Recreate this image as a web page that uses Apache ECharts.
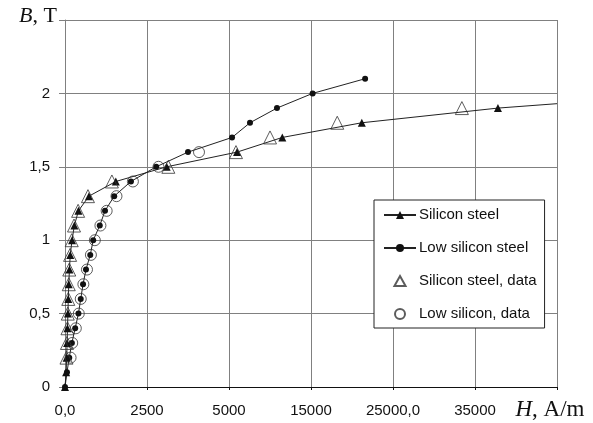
<!DOCTYPE html>
<html>
<head>
<meta charset="utf-8">
<script src="https://cdn.jsdelivr.net/npm/echarts@6/dist/echarts.min.js"></script>
<style>
html,body{margin:0;padding:0;background:#fff;}
#chart{width:593px;height:423px;}
</style>
</head>
<body>
<div id="chart"></div>
<script>
// H tick values (A/m) at equally spaced gridlines, and their labels
const hTicks = [0, 2500, 5000, 15000, 25000, 35000, 45000];
const xTickLabels = ["0,0", "2500", "5000", "15000", "25000,0", "35000", ""];
const yTickLabels = ["0", "0,5", "1", "1,5", "2", ""];

// Silicon steel curve
const siliconB = [0, 0.1, 0.2, 0.3, 0.4, 0.5, 0.6, 0.7, 0.8, 0.9, 1.0, 1.1, 1.2, 1.3, 1.4, 1.5, 1.6, 1.7, 1.8, 1.9, 1.93];
const siliconH = [0, 35, 50, 65, 75, 90, 100, 115, 135, 160, 215, 285, 410, 730, 1550, 3100, 5980, 11500, 21200, 37800, 45000];

// Low silicon steel curve
const lowB = [0, 0.1, 0.2, 0.3, 0.4, 0.5, 0.6, 0.7, 0.8, 0.9, 1.0, 1.1, 1.2, 1.3, 1.4, 1.5, 1.6, 1.7, 1.8, 1.9, 2.0, 2.1];
const lowH = [0, 60, 130, 210, 310, 410, 480, 550, 640, 770, 860, 1060, 1220, 1500, 2010, 2780, 3750, 5370, 7560, 10850, 15200, 21600];

// Silicon steel, measured data
const silDataB = [0.2, 0.3, 0.4, 0.5, 0.6, 0.7, 0.8, 0.9, 1.0, 1.1, 1.2, 1.3, 1.4, 1.5, 1.6, 1.7, 1.8, 1.9];
const silDataH = [45, 60, 75, 85, 100, 115, 130, 155, 205, 275, 400, 700, 1430, 3150, 5850, 10000, 18200, 33400];

// Low silicon, measured data
const lowDataB = [0.2, 0.3, 0.4, 0.5, 0.6, 0.7, 0.8, 0.9, 1.0, 1.1, 1.2, 1.3, 1.4, 1.5, 1.6];
const lowDataH = [170, 220, 330, 420, 480, 560, 670, 790, 910, 1080, 1270, 1570, 2070, 2850, 4085];

// piecewise-linear H scale: each gridline interval spans one axis unit
function hScale(h) {
  for (let i = 0; i < hTicks.length - 1; i++) {
    if (h <= hTicks[i + 1]) return i + (h - hTicks[i]) / (hTicks[i + 1] - hTicks[i]);
  }
  const n = hTicks.length - 1;
  return n + (h - hTicks[n]) / (hTicks[n] - hTicks[n - 1]);
}
function pairs(H, B) { return H.map((h, i) => [hScale(h), B[i]]); }

const siliconData = pairs(siliconH, siliconB).map((p, i, a) =>
  i === a.length - 1 ? { value: p, symbol: 'none' } : p);

const chart = echarts.init(document.getElementById('chart'), null, { renderer: 'canvas' });
const lineCol = '#222';
const gridCol = '#808080';
chart.setOption({
  animation: false,
  backgroundColor: '#fff',
  textStyle: { fontFamily: 'Liberation Sans' },
  grid: { left: 65, right: 36, top: 20, bottom: 36, containLabel: false },
  legend: {
    orient: 'vertical',
    left: 374, top: 200,
    padding: [6, 8, 5, 9],
    itemGap: 15,
    itemWidth: 32, itemHeight: 10,
    symbolKeepAspect: true,
    backgroundColor: '#fff',
    borderColor: '#222', borderWidth: 1,
    textStyle: { fontFamily: 'Liberation Sans', fontSize: 15, color: '#111', lineHeight: 18, padding: [0, 0, 0, -2] },
    data: [
      'Silicon steel',
      'Low silicon steel',
      { name: 'Silicon steel, data', icon: 'path://M5,0 L10,9 L0,9 Z' },
      'Low silicon, data'
    ]
  },
  xAxis: {
    type: 'value', min: 0, max: 6, interval: 1,
    name: '{i|H}, A/m',
    nameLocation: 'end', nameGap: -7,
    nameTextStyle: {
      fontFamily: 'Liberation Serif', fontSize: 23, color: '#111',
      align: 'center', verticalAlign: 'top', padding: [11, 0, 0, 0],
      rich: { i: { fontFamily: 'Liberation Serif', fontStyle: 'italic', fontSize: 23, color: '#111' } }
    },
    axisLine: { show: true, lineStyle: { color: '#111', width: 1 } },
    axisTick: { show: true, length: 3, lineStyle: { color: '#111' } },
    axisLabel: {
      margin: 16, fontSize: 15, color: '#111', fontFamily: 'Liberation Sans',
      formatter: v => xTickLabels[Math.round(v)] ?? ''
    },
    splitLine: { show: true, lineStyle: { color: gridCol, width: 1 } }
  },
  yAxis: {
    type: 'value', min: 0, max: 2.5, interval: 0.5,
    name: '{i|B}, T',
    nameLocation: 'end', nameGap: -7,
    nameTextStyle: {
      fontFamily: 'Liberation Serif', fontSize: 22, color: '#111',
      align: 'right', verticalAlign: 'bottom', padding: [0, 8, 0, 0],
      rich: { i: { fontFamily: 'Liberation Serif', fontStyle: 'italic', fontSize: 22, color: '#111' } }
    },
    axisLine: { show: true, lineStyle: { color: gridCol, width: 1 } },
    axisTick: { show: true, length: 6, lineStyle: { color: gridCol } },
    axisLabel: {
      margin: 15, fontSize: 15, color: '#111', fontFamily: 'Liberation Sans',
      formatter: v => yTickLabels[Math.round(v / 0.5)] ?? ''
    },
    splitLine: { show: true, lineStyle: { color: gridCol, width: 1 } }
  },
  series: [
    {
      name: 'Silicon steel', type: 'line',
      data: siliconData,
      symbol: 'triangle', symbolSize: 8,
      itemStyle: { color: '#111' },
      lineStyle: { color: lineCol, width: 1 },
      z: 3
    },
    {
      name: 'Low silicon steel', type: 'line',
      data: pairs(lowH, lowB),
      symbol: 'circle', symbolSize: 6,
      itemStyle: { color: '#111' },
      lineStyle: { color: lineCol, width: 1 },
      z: 3
    },
    {
      name: 'Silicon steel, data', type: 'scatter',
      data: pairs(silDataH, silDataB),
      symbol: 'triangle', symbolSize: 13,
      itemStyle: { color: 'rgba(255,255,255,0)', borderColor: '#333', borderWidth: 1 },
      z: 4
    },
    {
      name: 'Low silicon, data', type: 'scatter',
      data: pairs(lowDataH, lowDataB),
      symbol: 'circle', symbolSize: 11,
      itemStyle: { color: 'rgba(255,255,255,0)', borderColor: '#333', borderWidth: 1 },
      z: 4
    }
  ]
});
</script>
</body>
</html>
